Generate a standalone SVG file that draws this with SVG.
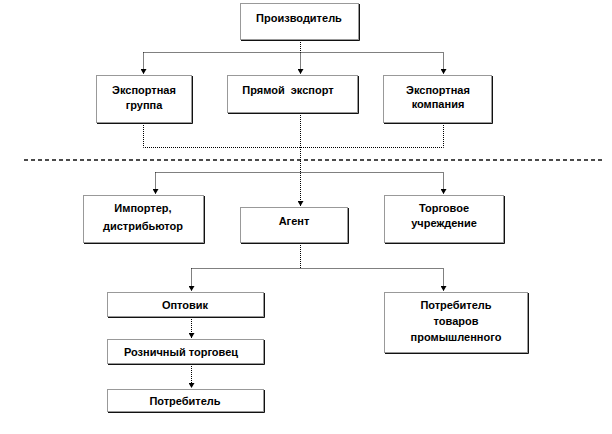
<svg xmlns="http://www.w3.org/2000/svg" width="612" height="434" viewBox="0 0 612 434">
<style>
.box{fill:#fff;stroke:#333;stroke-width:1;stroke-dasharray:1 1}
.sh{fill:none;stroke:#111;stroke-width:1}
.t{font-family:"Liberation Sans",Arial,sans-serif;font-weight:bold;font-size:11px;fill:#000;text-anchor:middle}
.c{fill:none;stroke:#000;stroke-width:1;stroke-dasharray:1 1}
.dash{fill:none;stroke:#111;stroke-width:1.5;stroke-dasharray:4 3}
</style>
<defs>
<marker id="a" markerWidth="6" markerHeight="6" refX="5" refY="3" orient="auto" markerUnits="userSpaceOnUse" viewBox="0 0 6 6">
<path d="M0,0 L5,3 L0,6 Z" fill="#000"/>
</marker>
</defs>
<line class="dash" x1="24" y1="160" x2="602" y2="160"/>
<g id="connectors">
<path class="c" d="M300.5,40 V52.5"/>
<path class="c" d="M143.5,52.5 H443.5"/>
<path class="c" d="M143.5,52.5 V74" marker-end="url(#a)"/>
<path class="c" d="M300.5,52.5 V74" marker-end="url(#a)"/>
<path class="c" d="M443.5,52.5 V74" marker-end="url(#a)"/>
<path class="c" d="M143.5,123 V147.5 H443.5 V123"/>
<path class="c" d="M300.5,113 V206" marker-end="url(#a)"/>
<path class="c" d="M155.5,172.5 H443.5 V194" marker-end="url(#a)"/>
<path class="c" d="M155.5,172.5 V194" marker-end="url(#a)"/>
<path class="c" d="M300.5,243 V268.5"/>
<path class="c" d="M191.5,268.5 H443.5 V291" marker-end="url(#a)"/>
<path class="c" d="M191.5,268.5 V291" marker-end="url(#a)"/>
<path class="c" d="M191.5,317 V338" marker-end="url(#a)"/>
<path class="c" d="M191.5,364 V388" marker-end="url(#a)"/>
</g>
<g id="n-proizvoditel">
<rect class="box" x="240.5" y="3.5" width="118" height="36"/>
<path class="sh" d="M359.5,4 V40.5 H241"/>
<text class="t" x="299" y="22">Производитель</text>
</g>
<g id="n-export-group">
<rect class="box" x="96.5" y="75.5" width="95" height="47"/>
<path class="sh" d="M192.5,76 V123.5 H97"/>
<text class="t" x="144" y="94">Экспортная</text>
<text class="t" x="144" y="109">группа</text>
</g>
<g id="n-direct">
<rect class="box" x="227.5" y="75.5" width="130" height="37"/>
<path class="sh" d="M358.5,76 V113.5 H228"/>
<text class="t" x="288" y="94" xml:space="preserve">Прямой  экспорт</text>
</g>
<g id="n-export-company">
<rect class="box" x="383.5" y="75.5" width="108" height="47"/>
<path class="sh" d="M492.5,76 V123.5 H384"/>
<text class="t" x="438" y="94">Экспортная</text>
<text class="t" x="438" y="108">компания</text>
</g>
<g id="n-importer">
<rect class="box" x="83.5" y="195.5" width="120" height="47"/>
<path class="sh" d="M204.5,196 V243.5 H84"/>
<text class="t" x="143" y="212">Импортер,</text>
<text class="t" x="143" y="230">дистрибьютор</text>
</g>
<g id="n-agent">
<rect class="box" x="240.5" y="207.5" width="107" height="35"/>
<path class="sh" d="M348.5,208 V243.5 H241"/>
<text class="t" x="294" y="225">Агент</text>
</g>
<g id="n-trade">
<rect class="box" x="384.5" y="195.5" width="119" height="47"/>
<path class="sh" d="M504.5,196 V243.5 H385"/>
<text class="t" x="444" y="212">Торговое</text>
<text class="t" x="444" y="227">учреждение</text>
</g>
<g id="n-wholesaler">
<rect class="box" x="107.5" y="292.5" width="156" height="24"/>
<path class="sh" d="M264.5,293 V317.5 H108"/>
<text class="t" x="185" y="309">Оптовик</text>
</g>
<g id="n-retailer">
<rect class="box" x="107.5" y="339.5" width="156" height="24"/>
<path class="sh" d="M264.5,340 V364.5 H108"/>
<text class="t" x="181" y="356">Розничный торговец</text>
</g>
<g id="n-consumer">
<rect class="box" x="107.5" y="389.5" width="156" height="22"/>
<path class="sh" d="M264.5,390 V412.5 H108"/>
<text class="t" x="185" y="405">Потребитель</text>
</g>
<g id="n-industrial">
<rect class="box" x="384.5" y="292.5" width="143" height="60"/>
<path class="sh" d="M528.5,293 V353.5 H385"/>
<text class="t" x="456" y="309">Потребитель</text>
<text class="t" x="456" y="325">товаров</text>
<text class="t" x="456" y="341">промышленного</text>
</g>
</svg>
